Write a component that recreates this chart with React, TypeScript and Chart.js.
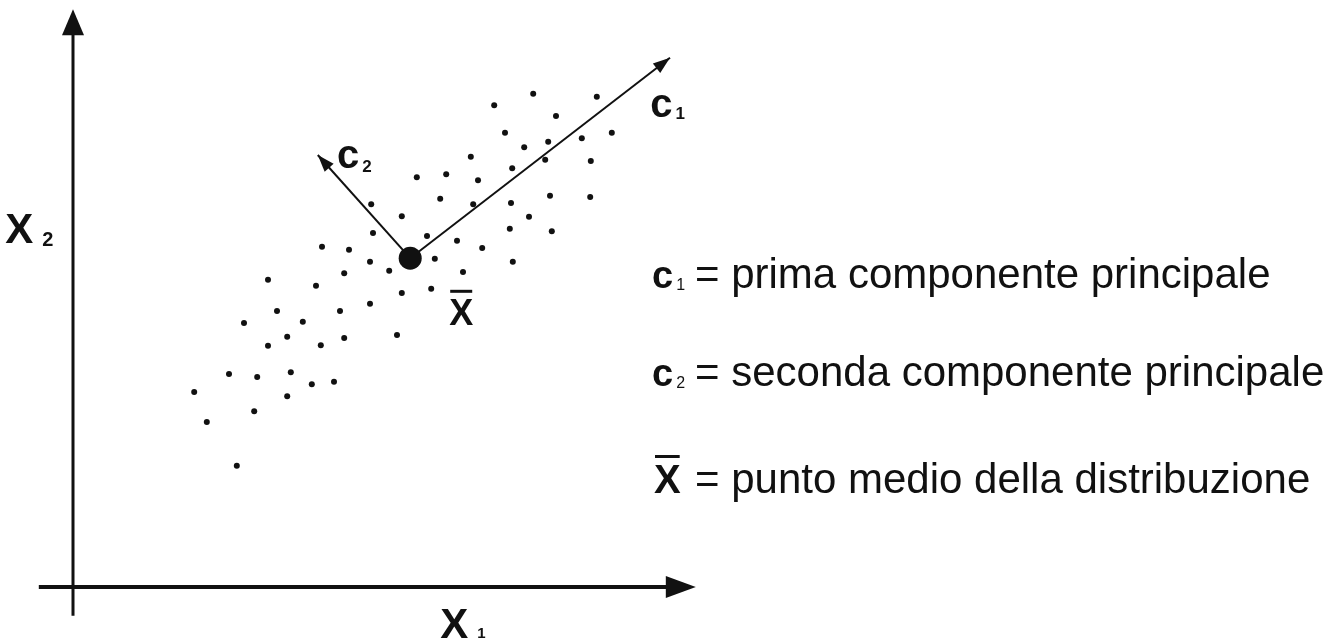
import React, { useEffect, useRef } from "react";
import { Chart, registerables } from "chart.js";

Chart.register(...registerables);

// Observations in the (x1, x2) plane
const obsX1 = [
  7.67, 7.02, 8.73, 8.05, 7.2, 7.52, 7.92, 8.48, 8.98, 6.63, 7.32, 7.87, 8.63,
  5.73, 6.22, 6.75, 6.12, 6.67, 7.3, 7.95, 8.62, 5.48, 7.6, 7.28, 7.98, 5.9,
  6.4, 6.82, 6.03, 7.33, 6.5, 5.27, 4.97, 5.0, 4.15, 4.6, 4.95, 4.52, 3.25,
  4.05, 5.48, 5.97, 4.95, 3.4, 4.45, 2.85, 3.83, 3.57, 4.52, 5.4, 3.25, 4.13,
  2.6, 3.07, 3.63, 3.98, 4.35, 2.02, 3.57, 3.02, 2.23, 2.73,
];
const obsX2 = [
  8.22, 8.03, 8.17, 7.85, 7.57, 7.33, 7.42, 7.48, 7.57, 7.17, 6.98, 7.12, 7.1,
  6.83, 6.88, 6.78, 6.47, 6.38, 6.4, 6.52, 6.5, 6.18, 6.17, 5.97, 5.93, 5.85,
  5.77, 5.65, 5.47, 5.42, 5.25, 5.27, 6.38, 5.9, 5.67, 5.62, 5.42, 5.23, 5.12,
  5.02, 4.9, 4.97, 4.72, 4.6, 4.6, 4.4, 4.42, 4.17, 4.15, 4.2, 4.02, 4.03,
  3.55, 3.5, 3.58, 3.38, 3.42, 3.25, 3.18, 2.93, 2.75, 2.02,
];

// Centre of the distribution and the tips of the two principal directions
const meanX1 = [5.62];
const meanX2 = [5.48];
const c1TipX1 = 9.95;
const c1TipX2 = 8.82;
const c2TipX1 = 4.08;
const c2TipX2 = 7.2;

// Extent of the drawn x1 / x2 axes (data units)
const axisX1Range = [-0.57, 10.38];
const axisX2Range = [-0.48, 9.63];

// Visible window of the plane
const viewX1 = [-1.2167, 21.1];
const viewX2 = [-0.9, 9.7833];

// Key text
const legendSymbols = ["c", "c", "X"];
const legendSubs = ["1", "2", ""];
const legendTexts = [
  "= prima componente principale",
  "= seconda componente principale",
  "= punto medio della distribuzione",
];

const INK = "#111111";
const SANS = "'Liberation Sans', Arial, Helvetica, sans-serif";

// Label anchors (data units, left edge / baseline)
const labelAnchors = {
  c1: { x: 9.62, y: 7.83 },
  c2: { x: 4.4, y: 6.98 },
  xbar: { x: 6.27, y: 4.37 },
  x1: { x: 6.12, y: -0.85 },
  x2: { x: -1.13, y: 5.73 },
};

// Key layout (canvas pixels)
const keyLeft = 652;
const keyBaselines = [288, 386, 493];

function arrowHead(
  ctx: CanvasRenderingContext2D,
  fx: number,
  fy: number,
  tx: number,
  ty: number,
  len: number,
  half: number
) {
  const a = Math.atan2(ty - fy, tx - fx);
  const bx = tx - len * Math.cos(a);
  const by = ty - len * Math.sin(a);
  ctx.beginPath();
  ctx.moveTo(tx, ty);
  ctx.lineTo(bx + half * Math.sin(a), by - half * Math.cos(a));
  ctx.lineTo(bx - half * Math.sin(a), by + half * Math.cos(a));
  ctx.closePath();
  ctx.fill();
}

function subscripted(
  ctx: CanvasRenderingContext2D,
  main: string,
  sub: string,
  x: number,
  y: number,
  mainFont: string,
  subFont: string,
  gap: number,
  drop: number
) {
  ctx.font = mainFont;
  ctx.fillText(main, x, y);
  const w = ctx.measureText(main).width;
  if (sub) {
    ctx.font = subFont;
    ctx.fillText(sub, x + w + gap, y + drop);
  }
  return w;
}

function barredX(ctx: CanvasRenderingContext2D, x: number, y: number, font: string, capH: number) {
  ctx.font = font;
  ctx.fillText("X", x, y);
  const w = ctx.measureText("X").width;
  ctx.fillRect(x + 1, y - capH - 9, w - 2, 3);
  return w;
}

const diagramPlugin = {
  id: "pcaDiagram",
  afterDatasetsDraw(chart: any) {
    const { ctx } = chart;
    const sx = chart.scales.x;
    const sy = chart.scales.y;
    const px = (v: number) => sx.getPixelForValue(v);
    const py = (v: number) => sy.getPixelForValue(v);

    ctx.save();
    ctx.fillStyle = INK;
    ctx.strokeStyle = INK;
    ctx.lineCap = "butt";

    // x2 axis (vertical)
    const ox = px(0);
    const oy = py(0);
    ctx.lineWidth = 3;
    ctx.beginPath();
    ctx.moveTo(ox, py(axisX2Range[0]));
    ctx.lineTo(ox, py(axisX2Range[1]) + 20);
    ctx.stroke();
    arrowHead(ctx, ox, oy, ox, py(axisX2Range[1]), 26, 11);

    // x1 axis (horizontal)
    ctx.lineWidth = 4;
    ctx.beginPath();
    ctx.moveTo(px(axisX1Range[0]), oy);
    ctx.lineTo(px(axisX1Range[1]) - 20, oy);
    ctx.stroke();
    arrowHead(ctx, ox, oy, px(axisX1Range[1]), oy, 30, 11);

    // Arrowheads of the principal directions
    const mx = px(meanX1[0]);
    const my = py(meanX2[0]);
    arrowHead(ctx, mx, my, px(c1TipX1), py(c1TipX2), 17, 6);
    arrowHead(ctx, mx, my, px(c2TipX1), py(c2TipX2), 17, 6);

    ctx.textBaseline = "alphabetic";
    ctx.textAlign = "left";

    // Direction labels
    const cFont = `bold 40px ${SANS}`;
    const cSub = `bold 17px ${SANS}`;
    subscripted(ctx, "c", "1", px(labelAnchors.c1.x), py(labelAnchors.c1.y), cFont, cSub, 3, 2);
    subscripted(ctx, "c", "2", px(labelAnchors.c2.x), py(labelAnchors.c2.y), cFont, cSub, 3, 4);

    // Mean label
    barredX(ctx, px(labelAnchors.xbar.x), py(labelAnchors.xbar.y), `bold 36px ${SANS}`, 26);

    // Axis names
    subscripted(ctx, "X", "1", px(labelAnchors.x1.x), py(labelAnchors.x1.y), `bold 42px ${SANS}`, `bold 15px ${SANS}`, 9, 0);
    subscripted(ctx, "X", "2", px(labelAnchors.x2.x), py(labelAnchors.x2.y), `bold 42px ${SANS}`, `bold 20px ${SANS}`, 9, 3);

    // Key
    for (let i = 0; i < legendTexts.length; i++) {
      const base = keyBaselines[i];
      if (legendSubs[i]) {
        subscripted(ctx, legendSymbols[i], legendSubs[i], keyLeft, base, `bold 38px ${SANS}`, `16px ${SANS}`, 3, 2);
      } else {
        barredX(ctx, keyLeft + 2, base, `bold 40px ${SANS}`, 29);
      }
      ctx.font = `42px ${SANS}`;
      ctx.fillText(legendTexts[i], keyLeft + 43, base);
    }

    ctx.restore();
  },
};

export default function App() {
  const canvasRef = useRef<HTMLCanvasElement | null>(null);

  useEffect(() => {
    const canvas = canvasRef.current;
    if (!canvas) return;

    const cloud = obsX1.map((v, i) => ({ x: v, y: obsX2[i] }));
    const mean = meanX1.map((v, i) => ({ x: v, y: meanX2[i] }));

    const chart = new Chart(canvas, {
      type: "scatter",
      data: {
        datasets: [
          {
            label: "media",
            data: mean,
            pointRadius: 11.5,
            pointBackgroundColor: INK,
            pointBorderWidth: 0,
            order: 0,
          },
          {
            label: "c1",
            data: [mean[0], { x: c1TipX1, y: c1TipX2 }],
            showLine: true,
            borderColor: INK,
            borderWidth: 2,
            pointRadius: 0,
            order: 1,
          },
          {
            label: "c2",
            data: [mean[0], { x: c2TipX1, y: c2TipX2 }],
            showLine: true,
            borderColor: INK,
            borderWidth: 2,
            pointRadius: 0,
            order: 1,
          },
          {
            label: "osservazioni",
            data: cloud,
            pointRadius: 3,
            pointBackgroundColor: INK,
            pointBorderWidth: 0,
            order: 2,
          },
        ],
      },
      options: {
        responsive: false,
        animation: false,
        layout: { padding: 0, autoPadding: false },
        plugins: {
          legend: { display: false },
          tooltip: { enabled: false },
        },
        scales: {
          x: { type: "linear", min: viewX1[0], max: viewX1[1], display: false },
          y: { type: "linear", min: viewX2[0], max: viewX2[1], display: false },
        },
      },
      plugins: [diagramPlugin],
    });

    return () => chart.destroy();
  }, []);

  return (
    <div style={{ position: "fixed", left: 0, top: 0, width: 1339, height: 641, background: "#ffffff" }}>
      <canvas ref={canvasRef} width={1339} height={641} style={{ display: "block" }} />
    </div>
  );
}
